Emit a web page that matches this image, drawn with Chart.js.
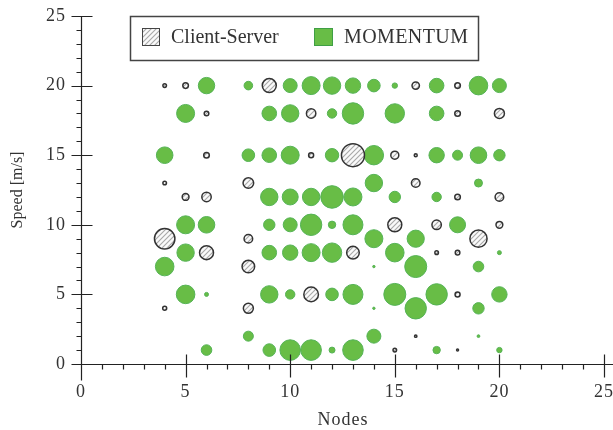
<!DOCTYPE html>
<html><head><meta charset="utf-8">
<script src="https://cdn.jsdelivr.net/npm/chart.js@4/dist/chart.umd.min.js"></script>
<style>html,body{margin:0;padding:0;background:#fff;overflow:hidden}</style>
</head><body>
<canvas id="c" width="613" height="430"></canvas>
<script>
// ---- data ----
const seriesNames = ['Client-Server', 'MOMENTUM'];
const xTicks = [0, 5, 10, 15, 20, 25];
const yTicks = [0, 5, 10, 15, 20, 25];
const xTitle = 'Nodes';
const yTitle = 'Speed [m/s]';

// Client-Server bubbles
const csX = [4, 5, 9, 16, 18,  6, 11, 18, 20,  6, 11, 13, 15, 16,  4, 8, 16,  5, 6, 18, 20,  15, 17, 20,  4, 8, 19,  6, 13, 17, 18,  8,  11, 18,  4, 8,  16,  15, 18];
const csY = [20, 20, 20, 20, 20,  18, 18, 18, 18,  15, 15, 15, 15, 15,  13, 13, 13,  12, 12, 12, 12,  10, 10, 10,  9, 9, 9,  8, 8, 8, 8,  7,  5, 5,  4, 4,  2,  1, 1];
const csR = [1.8, 2.8, 7, 3.7, 2.8,  2.3, 4.7, 2.8, 5,  2.8, 2.5, 11.5, 4, 1.5,  1.8, 5.3, 4.3,  3.4, 4.7, 2.8, 4.3,  7, 4.7, 3.4,  10.2, 4.3, 8.6,  7, 6.3, 1.8, 2.3,  6.3,  7.3, 2.5,  2, 5,  1.2,  1.8, 1];

// MOMENTUM bubbles
const moX = [6, 8, 10, 11, 12, 13, 14, 15, 17, 19, 20,
             5, 9, 10, 12, 13, 15, 17,
             4, 8, 9, 10, 12, 14, 17, 18, 19, 20,
             14, 19,
             9, 10, 11, 12, 13, 15, 17,
             5, 6, 9, 10, 11, 12, 13, 18,
             14, 16,
             5, 9, 10, 11, 12, 15, 20,
             4, 14, 16, 19,
             5, 6, 9, 10, 12, 13, 15, 17, 20,
             14, 16, 19,
             8, 14, 19,
             6, 9, 10, 11, 12, 13, 17, 20];
const moY = [20, 20, 20, 20, 20, 20, 20, 20, 20, 20, 20,
             18, 18, 18, 18, 18, 18, 18,
             15, 15, 15, 15, 15, 15, 15, 15, 15, 15,
             13, 13,
             12, 12, 12, 12, 12, 12, 12,
             10, 10, 10, 10, 10, 10, 10, 10,
             9, 9,
             8, 8, 8, 8, 8, 8, 8,
             7, 7, 7, 7,
             5, 5, 5, 5, 5, 5, 5, 5, 5,
             4, 4, 4,
             2, 2, 2,
             1, 1, 1, 1, 1, 1, 1, 1];
const moR = [8.2, 4.3, 7, 9, 8.7, 7.7, 6.3, 2.7, 7.3, 9.3, 7,
             9, 7.3, 8.7, 4.7, 10.7, 9.7, 7.3,
             8.3, 6.3, 7.3, 9, 6.7, 9.7, 7.7, 5, 8.3, 5.7,
             8.7, 4,
             8.7, 8, 8.7, 11.3, 9, 5.7, 4.7,
             9, 8.3, 5.7, 7, 10.7, 3.7, 10, 8,
             9, 8.6,
             8.7, 7.3, 7.7, 9, 9.7, 9.3, 2,
             9.3, 1.2, 11, 5.3,
             9.3, 2, 8.7, 4.7, 6.3, 10, 11, 10.7, 7.7,
             1.2, 10.7, 5.7,
             5, 7, 1.4,
             5.3, 6.3, 10.3, 10.3, 3, 10.3, 3.7, 2.7];

// ---- styles ----
const FONT = "'Liberation Serif', 'Times New Roman', serif";
const GREEN = '#68bd46';
const GREEN_EDGE = '#55b356';
const TEXT = '#333';

function makeHatch() {
  const p = document.createElement('canvas');
  p.width = 5; p.height = 5;
  const g = p.getContext('2d');
  g.fillStyle = '#fafafa'; g.fillRect(0, 0, 5, 5);
  g.strokeStyle = '#a8a8a8'; g.lineWidth = 1.1;
  g.beginPath();
  g.moveTo(-1, 6); g.lineTo(6, -1);
  g.moveTo(-1, 1); g.lineTo(1, -1);
  g.moveTo(4, 6); g.lineTo(6, 4);
  g.stroke();
  return g.createPattern(p, 'repeat');
}
const hatch = makeHatch();

function setSpacing(c, v) { try { c.letterSpacing = v; } catch (e) {} }

const axesPlugin = {
  id: 'axesDraw',
  afterDraw(chart) {
    const { ctx, scales: { x, y } } = chart;
    const ax = Math.round(x.getPixelForValue(0)) + 0.5;
    const ay = Math.round(y.getPixelForValue(0)) + 0.5;
    const yt = Math.round(y.getPixelForValue(25)) + 0.5;
    ctx.save();
    ctx.strokeStyle = '#222';
    ctx.lineWidth = 1.2;
    ctx.beginPath();
    ctx.moveTo(ax, yt); ctx.lineTo(ax, ay + 16);
    ctx.moveTo(ax, ay); ctx.lineTo(chart.width, ay);
    for (let v = 0; v <= 25; v++) {
      const px = Math.round(x.getPixelForValue(v)) + 0.5;
      if (v % 5 === 0) { ctx.moveTo(px, ay - 10); ctx.lineTo(px, ay + 13); }
      else { ctx.moveTo(px, ay); ctx.lineTo(px, ay + 5); }
      const py = Math.round(y.getPixelForValue(v)) + 0.5;
      if (v % 5 === 0) { ctx.moveTo(ax - 10, py); ctx.lineTo(ax + 11, py); }
      else { ctx.moveTo(ax - 5, py); ctx.lineTo(ax, py); }
    }
    ctx.stroke();
    // axis titles
    ctx.fillStyle = TEXT;
    ctx.textAlign = 'center'; ctx.textBaseline = 'middle';
    setSpacing(ctx, '1px');
    ctx.font = '18px ' + FONT;
    ctx.fillText(xTitle, 343, 420);
    setSpacing(ctx, '0px');
    ctx.translate(18, 190);
    ctx.rotate(-Math.PI / 2);
    ctx.font = '16px ' + FONT;
    ctx.fillText(yTitle, 0, 0);
    ctx.restore();
  }
};

const legendPlugin = {
  id: 'boxLegend',
  afterDraw(chart) {
    const c = chart.ctx;
    c.save();
    setSpacing(c, '0px');
    c.fillStyle = '#fff';
    c.fillRect(130.5, 16.5, 348, 44);
    c.strokeStyle = '#444'; c.lineWidth = 1.5;
    c.strokeRect(130.5, 16.5, 348, 44);
    c.fillStyle = hatch; c.fillRect(142, 28, 18, 18);
    c.strokeStyle = '#444'; c.lineWidth = 1; c.strokeRect(142.5, 28.5, 17, 17);
    c.fillStyle = GREEN; c.fillRect(314, 28, 19, 18);
    c.strokeStyle = '#3f9f45'; c.strokeRect(314.5, 28.5, 18, 17);
    c.font = '20px ' + FONT;
    c.fillStyle = TEXT; c.textBaseline = 'middle'; c.textAlign = 'left';
    c.fillText(seriesNames[0], 171, 38);
    setSpacing(c, '0.4px');
    c.fillText(seriesNames[1], 344, 38);
    c.restore();
  }
};

const spacingPlugin = {
  id: 'spacing',
  beforeInit(chart) { setSpacing(chart.ctx, '1px'); },
  beforeDraw(chart) { setSpacing(chart.ctx, '1px'); }
};

const toPts = (xs, ys, rs) => xs.map((v, i) => ({ x: v, y: ys[i], r: rs[i] }));

new Chart(document.getElementById('c'), {
  type: 'bubble',
  data: {
    datasets: [
      { label: seriesNames[0], data: toPts(csX, csY, csR), backgroundColor: hatch, borderColor: '#333', borderWidth: 1.5 },
      { label: seriesNames[1], data: toPts(moX, moY, moR), backgroundColor: GREEN, borderColor: GREEN_EDGE, borderWidth: 1 }
    ]
  },
  options: {
    responsive: false,
    devicePixelRatio: 1,
    animation: false,
    events: [],
    layout: { autoPadding: false, padding: { top: 16, right: 9, left: 0, bottom: 0 } },
    plugins: { legend: { display: false }, tooltip: { enabled: false } },
    scales: {
      x: {
        type: 'linear', min: 0, max: 25,
        afterBuildTicks: s => { s.ticks = xTicks.map(v => ({ value: v })); },
        afterFit: s => { s.height = 66; s.paddingLeft = 0; s.paddingRight = 0; },
        grid: { display: true, drawOnChartArea: false, drawTicks: true, tickLength: 10, color: 'rgba(0,0,0,0)' },
        border: { display: false },
        ticks: { padding: 7, color: TEXT, font: { family: FONT, size: 18 }, maxRotation: 0 },
        title: { display: false }
      },
      y: {
        type: 'linear', min: 0, max: 25,
        afterBuildTicks: s => { s.ticks = yTicks.map(v => ({ value: v })); },
        afterFit: s => { s.width = 81; s.paddingTop = 0; s.paddingBottom = 0; },
        grid: { display: true, drawOnChartArea: false, drawTicks: true, tickLength: 10, color: 'rgba(0,0,0,0)' },
        border: { display: false },
        ticks: { padding: 5, color: TEXT, font: { family: FONT, size: 18 } },
        title: { display: false }
      }
    }
  },
  plugins: [spacingPlugin, axesPlugin, legendPlugin]
});
</script>
</body></html>
